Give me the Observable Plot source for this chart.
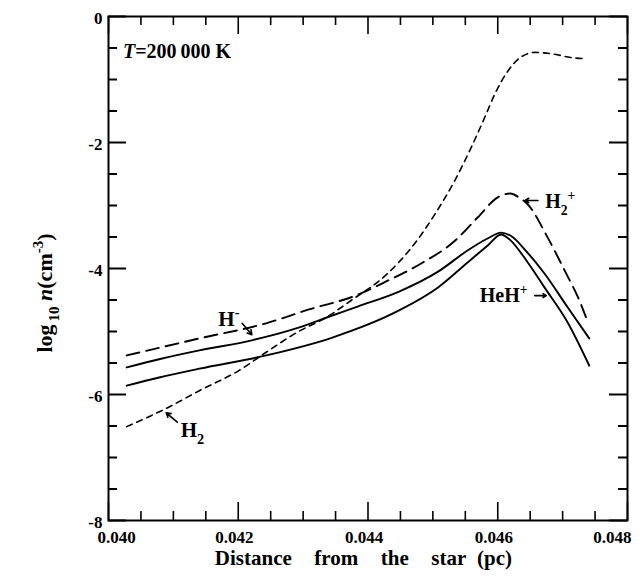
<!DOCTYPE html>
<html>
<head>
<meta charset="utf-8">
<script src="https://cdn.jsdelivr.net/npm/d3@7"></script>
<script src="https://cdn.jsdelivr.net/npm/@observablehq/plot@0.6"></script>
<style>
  body { margin: 0; background: #fff; }
  #chart svg { display: block; }
</style>
</head>
<body>
<div id="chart"></div>
<script>
// Number densities of molecular species versus distance, T = 200 000 K
const h2Dist = [0.04028, 0.04089, 0.04140, 0.04201, 0.04243, 0.04293, 0.04335, 0.04375, 0.04427, 0.04473, 0.04503, 0.04534, 0.04559, 0.04580, 0.04596, 0.04616, 0.04635, 0.04657, 0.04688, 0.04712, 0.04734];
const h2Log  = [-6.51, -6.22, -5.94, -5.62, -5.33, -5.00, -4.78, -4.50, -4.11, -3.59, -3.14, -2.60, -2.08, -1.60, -1.22, -0.86, -0.65, -0.57, -0.60, -0.65, -0.67];

const h2pDist = [0.04028, 0.04140, 0.04243, 0.04309, 0.04381, 0.04431, 0.04482, 0.04534, 0.04569, 0.04600, 0.04619, 0.04635, 0.04646, 0.04677, 0.04703, 0.04728, 0.04738];
const h2pLog  = [-5.38, -5.11, -4.87, -4.65, -4.43, -4.19, -3.92, -3.56, -3.19, -2.87, -2.81, -2.89, -2.98, -3.51, -4.03, -4.56, -4.83];

const hmDist = [0.04028, 0.04078, 0.04140, 0.04221, 0.04293, 0.04344, 0.04385, 0.04447, 0.04508, 0.04554, 0.04585, 0.04605, 0.04620, 0.04646, 0.04672, 0.04708, 0.04741];
const hmLog  = [-5.57, -5.44, -5.30, -5.14, -4.94, -4.75, -4.60, -4.37, -4.05, -3.71, -3.52, -3.43, -3.48, -3.75, -4.08, -4.62, -5.11];

const hehDist = [0.04028, 0.04078, 0.04140, 0.04243, 0.04344, 0.04447, 0.04508, 0.04554, 0.04585, 0.04605, 0.04616, 0.04646, 0.04672, 0.04708, 0.04741];
const hehLog  = [-5.86, -5.73, -5.59, -5.38, -5.10, -4.67, -4.30, -3.90, -3.63, -3.46, -3.52, -3.90, -4.30, -4.86, -5.54];

// Axis ticks and labels
const xMajor = [0.040, 0.042, 0.044, 0.046, 0.048];
const xMinor = d3.range(0.0405, 0.048, 0.0005).filter(v => Math.abs(v / 0.002 - Math.round(v / 0.002)) > 0.01);
const yMajor = [0, -2, -4, -6, -8];
const yMinor = d3.range(-7.5, 0, 0.5).filter(v => v % 2 !== 0);
const xLabels = ["0.040", "0.042", "0.044", "0.046", "0.048"];
const yLabels = ["0", "-2", "-4", "-6", "-8"];

// Curve labels (data coordinates of the text start) and their pointer arrows
const notes = [
  {x: 0.04170, y: -4.92, size: 21, parts: [{t: "H"}, {t: "-", sup: true}]},
  {x: 0.04112, y: -6.68, size: 21, parts: [{t: "H"}, {t: "2", sub: true}]},
  {x: 0.04674, y: -3.05, size: 20, parts: [{t: "H"}, {t: "2", sub: true}, {t: "+", sup: true}]},
  {x: 0.04573, y: -4.54, size: 20, parts: [{t: "HeH"}, {t: "+", sup: true}]}
];
const pointers = [
  {x1: 0.04206, y1: -4.87, x2: 0.04221, y2: -5.05},
  {x1: 0.04106, y1: -6.44, x2: 0.04089, y2: -6.29},
  {x1: 0.04662, y1: -2.92, x2: 0.04642, y2: -2.92},
  {x1: 0.04657, y1: -4.43, x2: 0.04675, y2: -4.43}
];
const tempLabel = {x: 0.04023, y: -0.67};

const rows = (xs, ys) => xs.map((x, i) => ({x, y: ys[i]}));

const W = 640, H = 581;
const mL = 108, mR = 13, mT = 16, mB = 61;
const innerW = W - mL - mR, innerH = H - mT - mB;
const major = 18, minor = 9;
const serif = "'Liberation Serif', 'Times New Roman', serif";

const plot = Plot.plot({
  width: W,
  height: H,
  marginLeft: mL,
  marginRight: mR,
  marginTop: mT,
  marginBottom: mB,
  x: {domain: [0.040, 0.048], axis: null},
  y: {domain: [-8, 0], axis: null},
  style: {fontFamily: serif, fontWeight: "bold", fontSize: "17px", background: "#fff", color: "#000", overflow: "visible"},
  marks: [
    // inward ticks on all four sides
    Plot.ruleY(yMajor, {y: d => d, insetRight: innerW - major, strokeWidth: 2}),
    Plot.ruleY(yMinor, {y: d => d, insetRight: innerW - minor, strokeWidth: 2}),
    Plot.ruleY(yMajor, {y: d => d, insetLeft: innerW - major, strokeWidth: 2}),
    Plot.ruleY(yMinor, {y: d => d, insetLeft: innerW - minor, strokeWidth: 2}),
    Plot.ruleX(xMajor, {x: d => d, insetTop: innerH - major, strokeWidth: 1.6}),
    Plot.ruleX(xMinor, {x: d => d, insetTop: innerH - minor, strokeWidth: 1.6}),
    Plot.ruleX(xMajor, {x: d => d, insetBottom: innerH - major, strokeWidth: 1.6}),
    Plot.ruleX(xMinor, {x: d => d, insetBottom: innerH - minor, strokeWidth: 1.6}),
    Plot.frame({stroke: "#000", strokeWidth: 2}),

    // tick labels
    Plot.text(yMajor, {y: d => d, text: (d, i) => yLabels[i], frameAnchor: "left", textAnchor: "end", dx: -6, dy: 2, fontSize: 17}),
    Plot.text(xMajor.slice(0, 1), {x: d => d, text: () => xLabels[0], frameAnchor: "bottom", lineAnchor: "top", dy: 10, dx: 8, fontSize: 17}),
    Plot.text(xMajor.slice(1, 4), {x: d => d, text: (d, i) => xLabels[i + 1], frameAnchor: "bottom", lineAnchor: "top", dy: 10, dx: -4, fontSize: 17}),
    Plot.text(xMajor.slice(4), {x: d => d, text: () => xLabels[4], frameAnchor: "bottom", lineAnchor: "top", textAnchor: "end", dy: 10, dx: 4, fontSize: 17}),

    // species curves
    Plot.line(rows(h2Dist, h2Log), {x: "x", y: "y", curve: "monotone-x", stroke: "#000", strokeWidth: 1.6, strokeDasharray: "6,5"}),
    Plot.line(rows(h2pDist, h2pLog), {x: "x", y: "y", curve: "monotone-x", stroke: "#000", strokeWidth: 1.9, strokeDasharray: "13,7"}),
    Plot.line(rows(hmDist, hmLog), {x: "x", y: "y", curve: "monotone-x", stroke: "#000", strokeWidth: 1.9}),
    Plot.line(rows(hehDist, hehLog), {x: "x", y: "y", curve: "monotone-x", stroke: "#000", strokeWidth: 1.9}),

    // pointers from labels to curves
    Plot.arrow(pointers, {x1: "x1", y1: "y1", x2: "x2", y2: "y2", stroke: "#000", strokeWidth: 1.6, headLength: 6})
  ]
});

document.getElementById("chart").appendChild(plot);

const sx = plot.scale("x"), sy = plot.scale("y");
const svg = d3.select(plot);
const g = svg.append("g")
  .attr("font-family", serif)
  .attr("font-weight", "bold")
  .attr("text-anchor", "start")
  .attr("fill", "#000")
  .style("white-space", "pre");

// text with sub/superscript pieces
function rich(text, parts, size) {
  let shift = 0;
  for (const p of parts) {
    const target = p.sub ? 0.32 * size : p.sup ? -0.42 * size : 0;
    text.append("tspan")
      .attr("dy", target - shift)
      .attr("font-size", (p.sub || p.sup) ? size * 0.68 : size)
      .attr("font-style", p.italic ? "italic" : null)
      .text(p.t);
    shift = target;
  }
}

for (const n of notes) {
  rich(g.append("text").attr("x", sx.apply(n.x)).attr("y", sy.apply(n.y)), n.parts, n.size);
}

rich(g.append("text").attr("x", sx.apply(tempLabel.x)).attr("y", sy.apply(tempLabel.y)),
  [{t: "T", italic: true}, {t: "=200\u2009000 K"}], 20);

// axis titles
g.append("text")
  .attr("x", mL + innerW / 2 - 4)
  .attr("y", H - 16)
  .attr("text-anchor", "middle")
  .attr("font-size", 21)
  .attr("word-spacing", "6px")
  .text("Distance  from  the  star (pc)");

const yt = g.append("text")
  .attr("transform", `translate(52, 293) rotate(-90)`)
  .attr("text-anchor", "middle");
rich(yt, [{t: "log"}, {t: "\u200910", sub: true}, {t: " "}, {t: "n", italic: true}, {t: "(cm"}, {t: "-3", sup: true}, {t: ")"}], 22);
</script>
</body>
</html>
